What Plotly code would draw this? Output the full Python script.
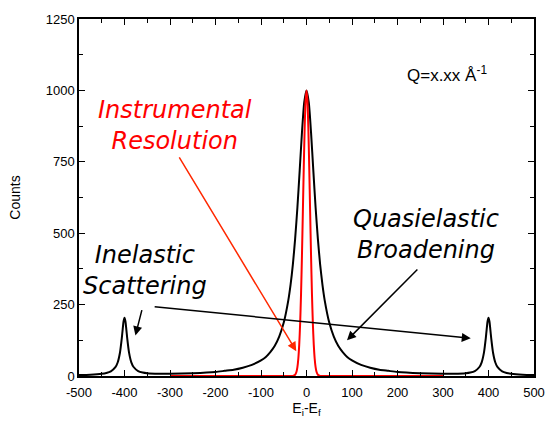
import plotly.graph_objects as go

# Black curve: quasielastic (broadened) peak + inelastic peaks at +/-400
black_x = [-500, -475, -450, -440, -430, -420, -415, -410, -406, -404, -402, -400, -398, -396, -394, -390,
           -385, -380, -370, -360, -350, -325, -300, -250, -200, -180, -160, -140, -120, -100, -90, -80,
           -70, -60, -50, -40, -35, -30, -25, -20, -15, -10, -5, 0,
           5, 10, 15, 20, 25, 30, 35, 40, 50, 60, 70, 80, 90, 100, 120, 140, 160, 180, 200, 250, 300,
           325, 350, 360, 370, 380, 385, 390, 394, 396, 398, 400, 402, 404, 406, 410, 415, 420, 430,
           440, 450, 475, 500]
black_y = [3.6, 4.7, 7.8, 10.7, 16.5, 30.9, 47.3, 81.4, 131.5, 163.5, 191.5, 203.6, 191.6, 163.6, 131.6, 81.7,
           47.8, 31.5, 17.4, 12.1, 9.7, 7.7, 7.7, 9.7, 14, 18, 22, 29, 39, 55, 66, 83,
           105, 138, 187, 265, 320, 390, 480, 590, 719, 852, 958, 1000,
           958, 852, 719, 590, 480, 390, 320, 265, 187, 138, 105, 83, 66, 55, 39, 29, 22, 18, 14, 9.7, 7.7,
           7.7, 9.7, 12.1, 17.4, 31.5, 47.8, 81.7, 131.6, 163.6, 191.6, 203.6, 191.5, 163.5, 131.5, 81.4, 47.3, 30.9, 16.5,
           10.7, 7.8, 4.7, 3.6]

# Red curve: instrumental resolution
red_x = [-300, -40, -30, -25, -22, -20, -18, -16, -14, -12, -10, -8, -6, -4, -2, 0,
         2, 4, 6, 8, 10, 12, 14, 16, 18, 20, 22, 25, 30, 40, 300]
red_y = [0, 0, 0.4, 4.5, 15.1, 31.3, 60.5, 109, 183, 287, 421, 575, 732, 871, 966, 1000,
         966, 871, 732, 575, 421, 287, 183, 109, 60.5, 31.3, 15.1, 4.5, 0.4, 0, 0]

x_ticks = [-500, -400, -300, -200, -100, 0, 100, 200, 300, 400, 500]
y_ticks = [0, 250, 500, 750, 1000, 1250]

fig = go.Figure()
fig.add_trace(go.Scatter(x=black_x, y=black_y, mode="lines", line=dict(color="black", width=2, shape="spline", smoothing=0.6),
                         showlegend=False, hoverinfo="skip"))
fig.add_trace(go.Scatter(x=red_x, y=red_y, mode="lines", line=dict(color="red", width=2, shape="spline", smoothing=0.6),
                         showlegend=False, hoverinfo="skip"))

italic_font = dict(family="DejaVu Sans", size=24, style="italic")
annotations = [
    dict(x=309, y=1058, text="Q=x.xx Å<sup>-1</sup>", showarrow=False,
         font=dict(family="Arial, Liberation Sans", size=17, color="black")),
    dict(x=-288, y=878, text="Instrumental<br>Resolution", showarrow=False,
         font=dict(**italic_font, color="red")),
    dict(x=-354, y=370, text="Inelastic<br>Scattering", showarrow=False,
         font=dict(**italic_font, color="black")),
    dict(x=262, y=496, text="Quasielastic<br>Broadening", showarrow=False,
         font=dict(**italic_font, color="black")),
    # arrows
    dict(x=-22.5, y=87, ax=-281.6, ay=771, axref="x", ayref="y", xref="x", yref="y", text="",
         showarrow=True, arrowhead=2, arrowsize=1.2, arrowwidth=1.5, arrowcolor="rgb(255,40,0)"),
    dict(x=-376, y=142, ax=-361, ay=236, axref="x", ayref="y", xref="x", yref="y", text="",
         showarrow=True, arrowhead=2, arrowsize=1.2, arrowwidth=1.5, arrowcolor="black"),
    dict(x=361, y=132, ax=-337, ay=243, axref="x", ayref="y", xref="x", yref="y", text="",
         showarrow=True, arrowhead=2, arrowsize=1.2, arrowwidth=1.5, arrowcolor="black"),
    dict(x=89, y=125, ax=247, ay=378, axref="x", ayref="y", xref="x", yref="y", text="",
         showarrow=True, arrowhead=2, arrowsize=1.2, arrowwidth=1.5, arrowcolor="black"),
]

axis_common = dict(showline=True, linecolor="black", linewidth=1.5, mirror="ticks", ticks="inside",
                   ticklen=6, tickwidth=1, tickcolor="black", showgrid=False, zeroline=False,
                   tickfont=dict(family="Arial, Liberation Sans", size=13, color="black"))

fig.update_layout(
    width=556, height=425,
    margin=dict(l=79, r=11, t=19, b=47),
    plot_bgcolor="white", paper_bgcolor="white",
    annotations=annotations,
    xaxis=dict(range=[-500, 500], tickvals=x_ticks, ticktext=[str(v) for v in x_ticks],
               minor=dict(dtick=50, ticks="inside", ticklen=4, tickcolor="black"),
               ticklabelstandoff=4,
               title=dict(text="E<sub>i</sub>-E<sub>f</sub>", font=dict(family="Arial, Liberation Sans", size=14, color="black"),
                          standoff=4),
               **axis_common),
    yaxis=dict(range=[0, 1250], tickvals=y_ticks, ticktext=[str(v) for v in y_ticks],
               minor=dict(dtick=125, ticks="inside", ticklen=4, tickcolor="black"),
               title=dict(text="Counts", font=dict(family="Arial, Liberation Sans", size=14, color="black"),
                          standoff=22),
               **axis_common),
)

fig.write_html("out.html")
